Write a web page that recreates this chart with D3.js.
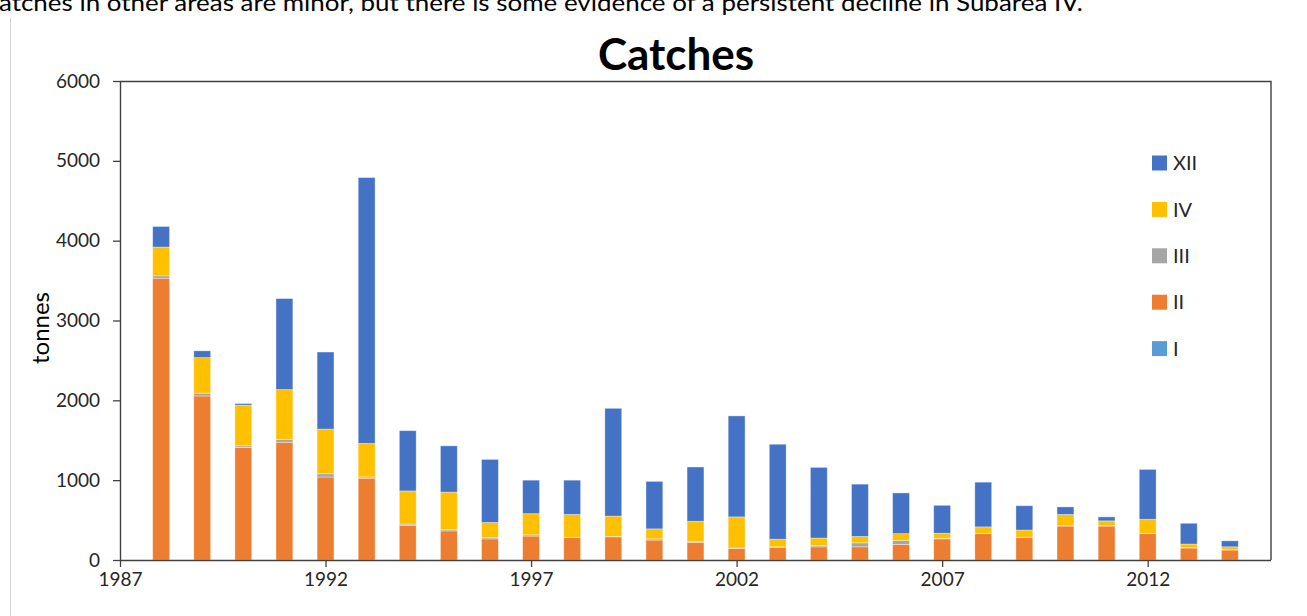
<!DOCTYPE html>
<html>
<head>
<meta charset="utf-8">
<script src="https://cdn.jsdelivr.net/npm/d3@7"></script>
<style>
  html, body { margin: 0; padding: 0; background: #fff; overflow: hidden; }
  svg text { font-family: Lato, "Open Sans", sans-serif; fill: #262626; }
</style>
</head>
<body>
<div id="chart"></div>
<script>
// Catch data (tonnes) by subarea
const years = [1988, 1989, 1990, 1991, 1992, 1993, 1994, 1995, 1996, 1997, 1998, 1999, 2000,
  2001, 2002, 2003, 2004, 2005, 2006, 2007, 2008, 2009, 2010, 2011, 2012, 2013, 2014];
const areaI = [0, 0, 0, 0, 0, 0, 0, 0, 0, 0, 0, 0, 0, 0, 0, 0, 0, 0, 0, 0, 0, 0, 0, 0, 0, 0, 0];
const areaII = [3530, 2055, 1410, 1475, 1040, 1025, 435, 365, 265, 300, 280, 290, 250,
  220, 145, 155, 165, 165, 195, 265, 330, 280, 425, 425, 330, 150, 125];
const areaIII = [30, 35, 20, 35, 40, 15, 15, 15, 15, 15, 5, 5, 15,
  15, 5, 10, 15, 50, 50, 5, 5, 5, 5, 5, 5, 5, 5];
const areaIV = [360, 445, 510, 625, 560, 420, 415, 470, 190, 265, 285, 255, 125,
  250, 390, 95, 95, 80, 85, 65, 80, 90, 140, 60, 175, 45, 35];
const areaXII = [258, 85, 20, 1140, 965, 3330, 755, 580, 790, 420, 430, 1350, 595,
  680, 1265, 1190, 885, 655, 510, 350, 560, 305, 95, 50, 625, 260, 75];

const seriesNames = ["I", "II", "III", "IV", "XII"];
const seriesValues = [areaI, areaII, areaIII, areaIV, areaXII];
const yTicks = [0, 1000, 2000, 3000, 4000, 5000, 6000];
const xTicks = [1987, 1992, 1997, 2002, 2007, 2012];

const colors = {
  "I": "#5b9bd5",
  "II": "#ed7d31",
  "III": "#a5a5a5",
  "IV": "#ffc000",
  "XII": "#4472c4"
};

// Overall size and plot area
const fullWidth = 1307;
const fullHeight = 616;
const margin = { top: 81, right: 36, bottom: 56, left: 120 };
const width = fullWidth - margin.left - margin.right;
const height = fullHeight - margin.top - margin.bottom;

const svgContainer = d3.select("#chart")
  .append("svg")
  .attr("width", fullWidth)
  .attr("height", fullHeight);

// Cut-off line of document text above the chart
svgContainer.append("text")
  .attr("x", -1)
  .attr("y", 11)
  .attr("textLength", 1084)
  .attr("lengthAdjust", "spacingAndGlyphs")
  .style("font-size", "24px")
  .style("fill", "#000")
  .text("atches in other areas are minor, but there is some evidence of a persistent decline in Subarea IV.");

// Faint page frame line on the left
svgContainer.append("line")
  .attr("x1", 10.5).attr("x2", 10.5)
  .attr("y1", 18).attr("y2", fullHeight)
  .attr("stroke", "#d4d4d4");

const svg = svgContainer.append("g")
  .attr("transform", `translate(${margin.left},${margin.top})`);

// Build rows for the stack
const table = years.map((yr, i) => {
  const row = { year: yr };
  seriesNames.forEach((s, j) => { row[s] = seriesValues[j][i]; });
  return row;
});

const stack = d3.stack().keys(seriesNames);
const stacked = stack(table);

// Scales
const x = d3.scaleLinear().domain([1987, 2015]).range([0, width]);
const y = d3.scaleLinear().domain([0, 6000]).range([height, 0]);
const barWidth = (x(1988) - x(1987)) * 0.41;

// Bars
svg.selectAll("g.layer")
  .data(stacked)
  .join("g")
  .attr("class", "layer")
  .attr("fill", d => colors[d.key])
  .selectAll("rect")
  .data(d => d)
  .join("rect")
  .attr("x", d => x(d.data.year) - barWidth / 2)
  .attr("y", d => y(d[1]))
  .attr("width", barWidth)
  .attr("height", d => Math.max(0, y(d[0]) - y(d[1])))
  .attr("stroke", "rgba(255,255,255,0.45)")
  .attr("stroke-width", 0.8);

// Plot area frame (top and right)
svg.append("path")
  .attr("d", `M0,0.5H${width}V${height}`)
  .attr("fill", "none")
  .attr("stroke", "#404040")
  .attr("stroke-width", 1.4);

// Axes
const yAxis = svg.append("g")
  .call(d3.axisLeft(y).tickValues(yTicks).tickSize(7).tickPadding(13).tickFormat(d3.format("d")));

const xAxis = svg.append("g")
  .attr("transform", `translate(0,${height})`)
  .call(d3.axisBottom(x).tickValues(xTicks).tickSize(7).tickPadding(6).tickFormat(d3.format("d")));

[yAxis, xAxis].forEach(ax => {
  ax.select(".domain").attr("stroke", "#404040").attr("stroke-width", 1.4);
  ax.selectAll(".tick line").attr("stroke", "#404040").attr("stroke-width", 1.3);
  ax.selectAll(".tick text")
    .style("font-size", "19px")
    .style("font-family", "Lato, 'Open Sans', sans-serif")
    .style("fill", "#262626");
});
xAxis.select(".domain").attr("d", `M0,0.5H${width}`);
yAxis.select(".domain").attr("d", `M0.5,0V${height}`);

// Title
svgContainer.append("text")
  .attr("x", 676)
  .attr("y", 70)
  .attr("text-anchor", "middle")
  .style("font-size", "44px")
  .style("font-weight", "bold")
  .style("fill", "#000")
  .text("Catches");

// Y axis label
svgContainer.append("text")
  .attr("transform", `translate(49,328) rotate(-90)`)
  .attr("text-anchor", "middle")
  .style("font-size", "24px")
  .style("fill", "#000")
  .text("tonnes");

// Legend, top series first
const legendOrder = seriesNames.slice().reverse();
const legend = svgContainer.append("g")
  .attr("transform", "translate(1152,163)");

const items = legend.selectAll("g")
  .data(legendOrder)
  .join("g")
  .attr("transform", (d, i) => `translate(0,${i * 46.4})`);

items.append("rect")
  .attr("x", 0)
  .attr("y", -7.5)
  .attr("width", 15)
  .attr("height", 15)
  .attr("fill", d => colors[d]);

items.append("text")
  .attr("x", 21)
  .attr("y", 0)
  .attr("dy", "0.36em")
  .style("font-size", "20px")
  .text(d => d);
</script>
</body>
</html>
